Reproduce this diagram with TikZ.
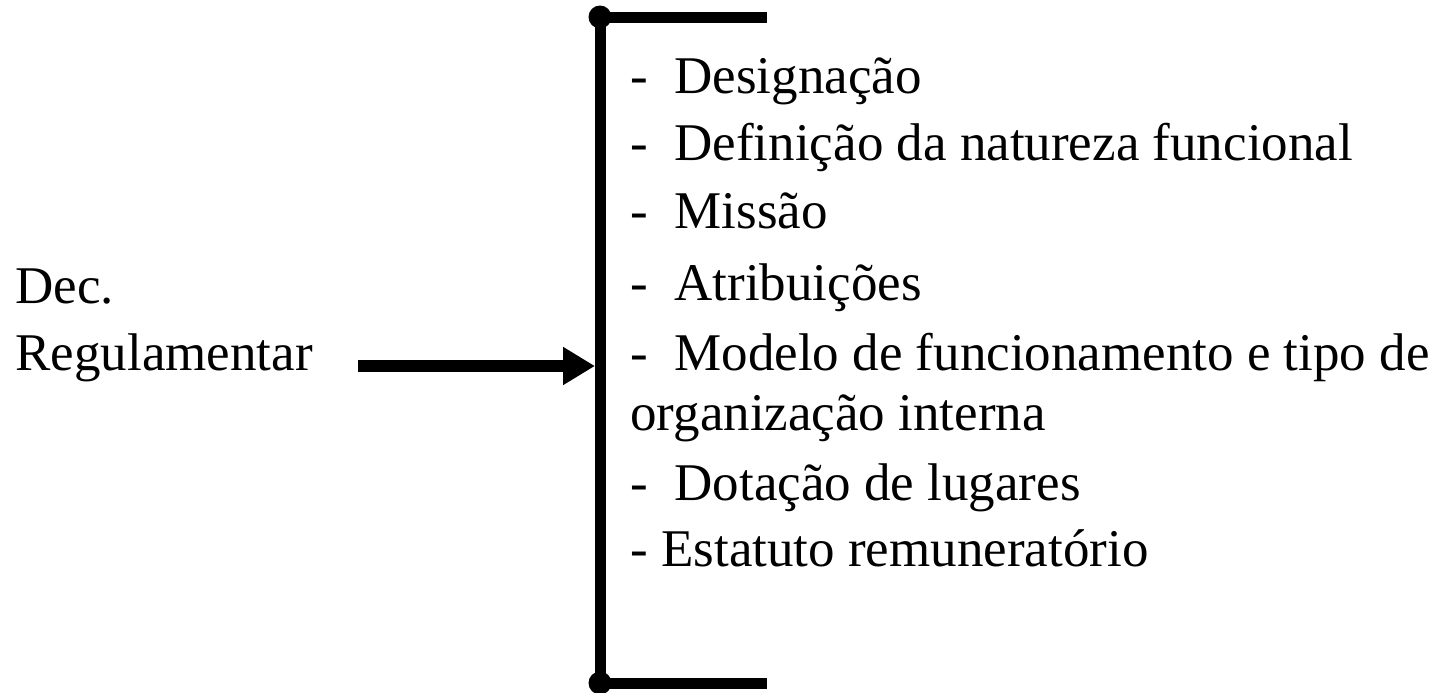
\documentclass[tikz,border=0pt]{standalone}
\usepackage{fontspec}
\setmainfont{Liberation Serif}
\usetikzlibrary{arrows.meta}
\begin{document}
\begin{tikzpicture}[x=0.5pt,y=-0.5pt,
  txt/.style={anchor=base west,inner sep=0pt,font=\fontsize{26.5pt}{30pt}\selectfont},
  thick bar/.style={line width=5.5pt},
  dot/.style={circle,fill=black,inner sep=0pt,minimum size=11.5pt}]
\useasboundingbox (0,0) rectangle (1437,692);
% bracket
\coordinate (tr) at (767,17);
\coordinate (tl) at (600,17);
\coordinate (bl) at (600,683);
\coordinate (br) at (767,683);
\draw[thick bar] (tr) -- (tl) -- (bl) -- (br);
\node[dot] (dtop) at (tl) {};
\node[dot] (dbot) at (bl) {};
% left label
\node[txt] (dec) at (15,303) {Dec.};
\node[txt] (reg) at (15,370) {Regulamentar};
% arrow
\coordinate (astart) at (358,366);
\coordinate (aend) at (595,366);
\draw[line width=6pt,-{Triangle[length=16pt,width=18pt]}] (astart) -- (aend);
% items
\node[txt] (i1) at (630,93) {-\ \ Designação};
\node[txt] (i2) at (630,160) {-\ \ Definição da natureza funcional};
\node[txt] (i3) at (630,228) {-\ \ Missão};
\node[txt] (i4) at (630,300) {-\ \ Atribuições};
\node[txt] (i5) at (630,370) {-\ \ Modelo de funcionamento e tipo de};
\node[txt] (i6) at (630,430) {organização interna};
\node[txt] (i7) at (630,500) {-\ \ Dotação de lugares};
\node[txt] (i8) at (630,566) {- Estatuto remuneratório};
\end{tikzpicture}
\end{document}
